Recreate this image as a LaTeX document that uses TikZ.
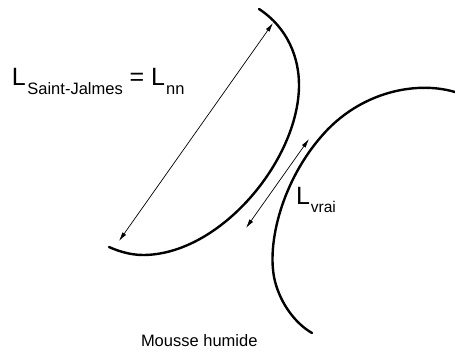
\documentclass[tikz,border=0pt]{standalone}
\usepackage{fontspec}
\setmainfont{Liberation Sans}
\usetikzlibrary{arrows.meta}
\tikzset{
  curveline/.style={line width=2.4pt, line cap=round},
  dimarrow/.style={line width=0.7pt, {Latex[length=9pt,width=4.5pt]}-{Latex[length=9pt,width=4.5pt]}},
  lab/.style={anchor=base west, inner sep=0pt, outer sep=0pt}
}
\newcommand{\bigL}{\fontsize{25}{25}\selectfont}
\newcommand{\subtxt}[1]{\raisebox{-9pt}{\fontsize{16.5}{16.5}\selectfont #1}}
\begin{document}
\begin{tikzpicture}[x=1pt,y=-1pt]
\useasboundingbox (0,0) rectangle (455,352);
% left curve
\draw[curveline] (259,9) .. controls (288,28) and (299,58) .. (299,85)
  .. controls (299,160) and (220,255) .. (143,255)
  .. controls (130,255) and (118,251) .. (109,247);
% right curve
\draw[curveline] (458,93) .. controls (420,80) and (360,90) .. (320,138)
  .. controls (280,185) and (265,250) .. (276,285)
  .. controls (283,308) and (298,325) .. (312,333);
% arrows
\coordinate (a1) at (119,241);
\coordinate (a2) at (273,23);
\coordinate (b1) at (246,228);
\coordinate (b2) at (309,139);
\draw[dimarrow] (a1) -- (a2);
\draw[dimarrow] (b1) -- (b2);
% labels
\node[lab] (sj) at (12,86) {\bigL L\kern1.5pt\subtxt{Saint-Jalmes} = L\kern1pt\subtxt{nn}};
\node[lab] (vrai) at (296,205) {\bigL L\kern1pt\raisebox{-8pt}{\fontsize{15.5}{15.5}\selectfont vrai}};
\node[lab] (mousse) at (141,347) {\fontsize{16.5}{16.5}\selectfont Mousse humide};
\end{tikzpicture}
\end{document}
